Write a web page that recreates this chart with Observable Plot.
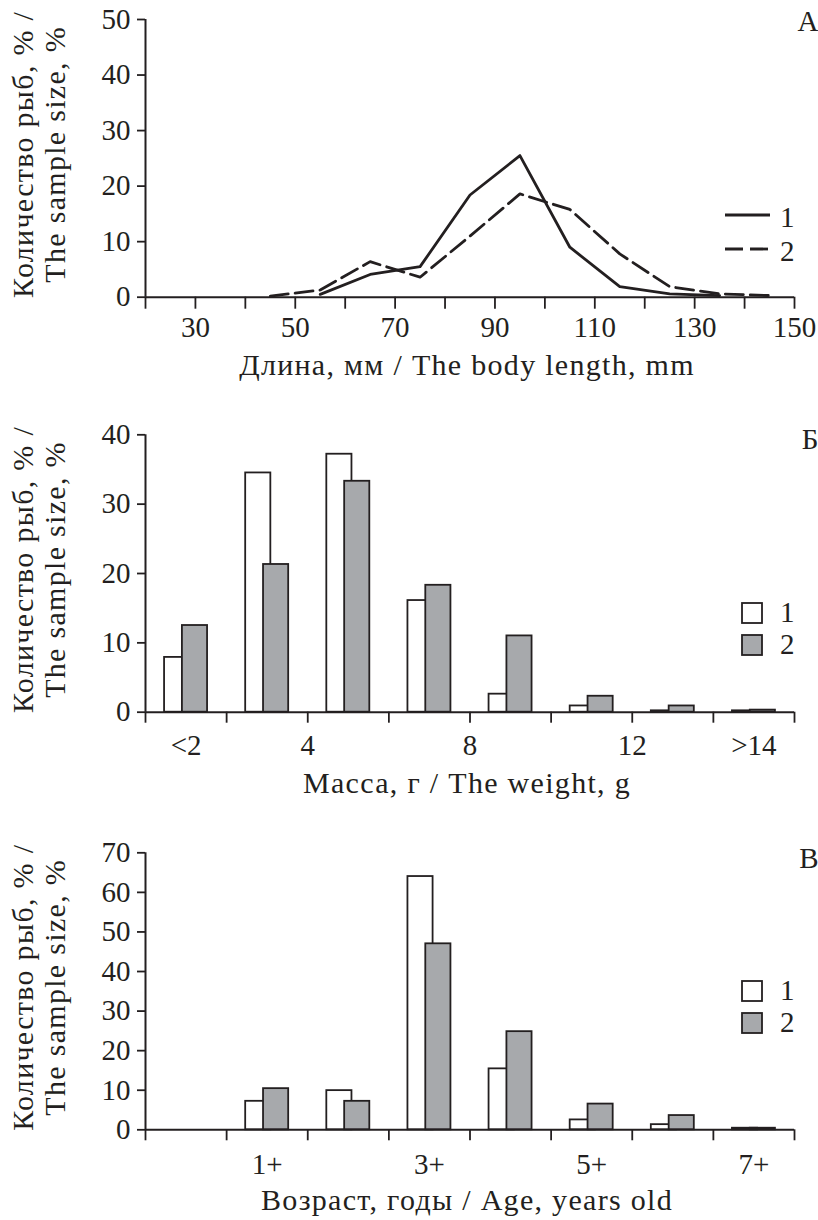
<!DOCTYPE html>
<html><head><meta charset="utf-8">
<script src="https://cdn.jsdelivr.net/npm/d3@7"></script>
<script src="https://cdn.jsdelivr.net/npm/@observablehq/plot@0.6"></script>
<style>
body{margin:0;background:#fff;}
#wrap{position:relative;width:818px;height:1220px;overflow:hidden;font-family:"Liberation Serif","Times New Roman",serif;color:#231f20;}
#wrap svg{position:absolute;left:0;}
</style></head><body><div id="wrap"></div>
<script>
// ---------- Panel А: body length ----------
const lengthMm   = [45, 55, 65, 75, 85, 95, 105, 115, 125, 135, 145];
const lengthS1   = [null, 0.5, 4.1, 5.5, 18.4, 25.5, 9.0, 1.9, 0.6, 0.3, null];
const lengthS2   = [0.2, 1.3, 6.4, 3.6, 11.0, 18.6, 15.8, 7.8, 1.9, 0.6, 0.3];
const lengthTicks = [20,30,40,50,60,70,80,90,100,110,120,130,140,150];
const lengthTickLabels = [30,50,70,90,110,130,150];

// ---------- Panel Б: weight ----------
const weightLo   = [0, 2, 4, 6, 8, 10, 12, 14];
const weightS1   = [7.9, 34.5, 37.2, 16.1, 2.6, 0.9, 0.2, 0.2];
const weightS2   = [12.5, 21.3, 33.3, 18.3, 11.0, 2.3, 0.9, 0.3];
const weightTickPos = [1, 4, 8, 12, 15];
const weightTickLabels = ["<2", "4", "8", "12", ">14"];

// ---------- Panel В: age ----------
const ageLo      = [0, 1, 2, 3, 4, 5, 6, 7];
const ageClasses = ["0+", "1+", "2+", "3+", "4+", "5+", "6+", "7+"];
const ageS1      = [0, 7.2, 9.9, 64.0, 15.4, 2.5, 1.3, 0.4];
const ageS2      = [0, 10.4, 7.2, 47.0, 24.8, 6.5, 3.6, 0.4];
const ageTickPos = [1.5, 3.5, 5.5, 7.5];
const ageTickLabels = ["1+", "3+", "5+", "7+"];

const yTitle1 = "Количество рыб, % /";
const yTitle2 = "The sample size, %";
const xTitleA = "Длина, мм / The body length, mm";
const xTitleB = "Масса, г / The weight, g";
const xTitleC = "Возраст, годы / Age, years old";
const ink = "#231f20";
const gray = "#a7a9ac";
const FONT = "Liberation Serif, Times New Roman, serif";
const FS = 29;
const TFS = 30;

const wrap = document.getElementById("wrap");
const titles = [yTitle1, yTitle2, xTitleA, xTitleB, xTitleC];

function place(svg, top) {
  d3.select(svg).selectAll("text")
    .filter(function() { return titles.includes(this.textContent); })
    .style("letter-spacing", "1.3px");
  svg.style.top = top + "px";
  wrap.appendChild(svg);
}

function commonMarks(xmin, ymax, yStep, panelLetter, letterDy, xTitle, xTitleDy) {
  return [
    Plot.axisY({ticks: d3.range(0, ymax + 1, yStep), tickSize: 8, tickPadding: 7, fontSize: FS, strokeWidth: 1.8, label: null}),
    Plot.ruleX([xmin], {y1: 0, y2: ymax, stroke: ink, strokeWidth: 2}),
    Plot.ruleY([0], {stroke: ink, strokeWidth: 2}),
    Plot.text([yTitle1], {frameAnchor: "left", textAnchor: "middle", lineAnchor: "middle", rotate: -90, dx: -122, dy: -4, fontSize: TFS, fill: ink}),
    Plot.text([yTitle2], {frameAnchor: "left", textAnchor: "middle", lineAnchor: "middle", rotate: -90, dx: -90, dy: -4, fontSize: TFS, fill: ink}),
    Plot.text([panelLetter], {frameAnchor: "top-right", textAnchor: "end", lineAnchor: "top", dx: 24, dy: letterDy, fontSize: FS, fill: ink}),
    Plot.text([xTitle], {frameAnchor: "bottom", textAnchor: "middle", lineAnchor: "middle", dx: -3, dy: xTitleDy, fontSize: TFS, fill: ink})
  ];
}

// ---------- Panel А ----------
const lenData = lengthMm.map((x, i) => ({x, s1: lengthS1[i], s2: lengthS2[i]}));
const plotA = Plot.plot({
  width: 818, height: 390,
  marginTop: 19, marginBottom: 93.3, marginLeft: 145, marginRight: 24,
  style: {fontFamily: FONT, fontSize: FS + "px", color: ink, background: "transparent", overflow: "visible"},
  x: {domain: [20, 150]},
  y: {domain: [0, 50]},
  marks: [
    Plot.axisX({ticks: lengthTicks, tickSize: 12, tickPadding: 7, fontSize: FS, strokeWidth: 1.8, label: null,
      tickFormat: d => lengthTickLabels.includes(d) ? String(d) : ""}),
    ...commonMarks(20, 50, 10, "А", -9, xTitleA, 68),
    Plot.line(lenData.filter(d => d.s2 != null), {x: "x", y: "s2", stroke: ink, strokeWidth: 2.8, strokeDasharray: "18,7"}),
    Plot.line(lenData.filter(d => d.s1 != null), {x: "x", y: "s1", stroke: ink, strokeWidth: 2.8})
  ]
});
place(plotA, 0);

// ---------- bar panels ----------
function barPanel({lo, width, s1, s2, ymax, domainMax, tickPos, tickLabels, letter, letterDy, xTitle, top, height, mTop, mBottom, labelPad}) {
  const w1 = [0.235, 0.545], w2 = [0.455, 0.765];
  const d1 = lo.map((l, i) => ({x1: l + w1[0] * width, x2: l + w1[1] * width, v: s1[i]})).filter(d => d.v > 0);
  const d2 = lo.map((l, i) => ({x1: l + w2[0] * width, x2: l + w2[1] * width, v: s2[i]})).filter(d => d.v > 0);
  const plot = Plot.plot({
    width: 818, height,
    marginTop: mTop, marginBottom: mBottom, marginLeft: 145, marginRight: 24,
    style: {fontFamily: FONT, fontSize: FS + "px", color: ink, background: "transparent", overflow: "visible"},
    x: {domain: [0, domainMax]},
    y: {domain: [0, ymax]},
    marks: [
      Plot.rectY(d1, {x1: "x1", x2: "x2", y1: 0, y2: "v", fill: "white", stroke: ink, strokeWidth: 1.8}),
      Plot.rectY(d2, {x1: "x1", x2: "x2", y1: 0, y2: "v", fill: gray, stroke: ink, strokeWidth: 1.8}),
      Plot.axisX({ticks: d3.range(0, domainMax + 0.01, width), tickSize: 11, tickFormat: () => "", strokeWidth: 1.8, label: null}),
      Plot.axisX({ticks: tickPos, tickSize: 0, tickPadding: labelPad, fontSize: FS, label: null,
        tickFormat: d => tickLabels[tickPos.indexOf(d)]}),
      ...commonMarks(0, ymax, 10, letter, letterDy, xTitle, 71)
    ]
  });
  place(plot, top);
}

barPanel({lo: weightLo, width: 2, s1: weightS1, s2: weightS2, ymax: 40, domainMax: 16,
  tickPos: weightTickPos, tickLabels: weightTickLabels, letter: "Б", letterDy: -6,
  xTitle: xTitleB, top: 390, height: 410, mTop: 44.3, mBottom: 88.3, labelPad: 22});

barPanel({lo: ageLo, width: 1, s1: ageS1, s2: ageS2, ymax: 70, domainMax: 8,
  tickPos: ageTickPos, tickLabels: ageTickLabels, letter: "В", letterDy: -5,
  xTitle: xTitleC, top: 800, height: 420, mTop: 52.3, mBottom: 90.7, labelPad: 24});

// ---------- legends ----------
const leg = d3.create("svg").attr("width", 818).attr("height", 1220)
  .style("top", "0px").style("pointer-events", "none")
  .attr("font-family", FONT).attr("font-size", FS).attr("fill", ink);
const lineLegend = [{label: "1", dash: null, y: 215, ty: 227}, {label: "2", dash: "18,7", y: 249, ty: 261}];
lineLegend.forEach(d => {
  leg.append("line").attr("x1", 725).attr("x2", 770).attr("y1", d.y).attr("y2", d.y)
    .attr("stroke", ink).attr("stroke-width", 2.8).attr("stroke-dasharray", d.dash);
  leg.append("text").attr("x", 780).attr("y", d.ty).text(d.label);
});
const boxLegend = [
  {label: "1", fill: "white", y: 603}, {label: "2", fill: gray, y: 635},
  {label: "1", fill: "white", y: 981}, {label: "2", fill: gray, y: 1013}
];
boxLegend.forEach(d => {
  leg.append("rect").attr("x", 742).attr("y", d.y).attr("width", 20).attr("height", 20)
    .attr("fill", d.fill).attr("stroke", ink).attr("stroke-width", 1.8);
  leg.append("text").attr("x", 780).attr("y", d.y + 19).text(d.label);
});
wrap.appendChild(leg.node());
</script></body></html>
